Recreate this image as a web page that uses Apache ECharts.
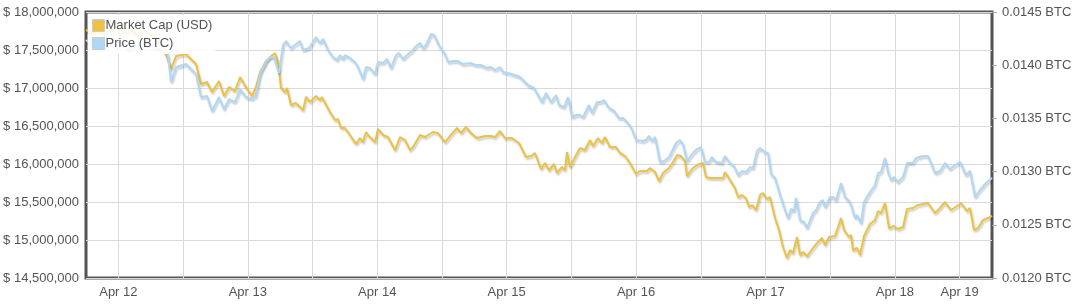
<!DOCTYPE html>
<html><head><meta charset="utf-8">
<script src="https://cdn.jsdelivr.net/npm/echarts@6/dist/echarts.min.js"></script>
<style>html,body{margin:0;padding:0;background:#fff}#c{width:1082px;height:306px}</style>
</head><body><div id="c"></div>
<script>
const seriesNames = ['Market Cap (USD)', 'Price (BTC)'];

// hours since Apr 11 18:00
const capHours = [0,1.11,2.23,3.34,4.45,5.38,6.30,7.42,8.53,9.64,10.75,11.87,12.98,14.09,14.83,15.76,16.69,18.54,20.40,21.32,22.44,23.37,24.66,25.59,26.52,27.63,28.56,29.67,30.78,31.52,32.26,33.38,34.12,35.05,35.60,36.16,36.90,37.27,38.01,38.94,40.24,40.79,41.54,42.65,43.39,43.76,45.24,46.17,46.73,47.28,48.03,48.95,50.07,50.81,51.36,51.92,52.66,53.59,54.15,55.07,56.00,57.30,58.23,59.15,60.08,60.64,61.93,62.86,64.34,65.27,66.57,67.68,68.79,69.54,70.46,71.39,72.50,73.99,75.10,75.84,76.77,77.69,78.99,80.29,81.59,82.52,83.26,84.37,85.11,85.85,86.78,87.34,88.26,88.82,89.19,89.75,90.67,91.60,92.53,93.46,94.01,94.94,95.68,96.24,97.16,98.28,99.02,99.95,100.87,101.99,102.73,104.03,104.58,105.51,106.25,107.00,108.11,108.85,109.59,110.33,111.07,111.44,112.37,113.30,113.85,114.41,114.97,115.71,117.19,118.12,118.49,119.42,120.34,120.90,121.64,122.38,122.94,123.50,124.24,124.98,125.54,126.28,126.83,127.76,128.50,129.24,129.98,130.54,131.10,131.84,132.40,132.95,133.70,134.81,135.74,136.48,137.03,137.77,138.89,140.00,140.56,141.49,141.86,142.22,142.97,143.52,144.26,145.38,146.30,146.86,147.42,148.16,148.90,149.83,150.57,151.50,152.24,153.35,154.28,156.13,157.43,158.36,159.28,160.40,161.51,162.25,163.36,163.92,164.66,165.40,166.33,167.26,168.00];
const capValues = [17763000,17724000,17750000,17711000,17789000,17868000,17763000,17724000,17763000,17684000,17750000,17724000,17658000,17579000,17447000,17250000,17421000,17447000,17316000,17053000,17079000,16947000,17092000,16895000,17013000,16961000,17145000,17013000,16895000,17013000,17211000,17355000,17408000,17461000,17342000,17000000,16947000,17000000,16776000,16803000,16711000,16882000,16816000,16895000,16842000,16882000,16684000,16579000,16592000,16474000,16474000,16382000,16263000,16342000,16289000,16421000,16355000,16289000,16461000,16382000,16355000,16184000,16355000,16316000,16184000,16224000,16382000,16355000,16421000,16408000,16289000,16382000,16474000,16408000,16487000,16408000,16342000,16368000,16368000,16355000,16434000,16342000,16342000,16276000,16092000,16105000,16145000,15934000,16013000,15921000,16000000,15882000,15961000,15921000,16158000,15961000,16092000,16211000,16184000,16316000,16237000,16342000,16276000,16355000,16224000,16224000,16145000,16105000,16013000,15868000,15908000,15908000,15947000,15895000,15776000,15882000,15947000,16026000,16118000,16105000,16039000,15842000,15934000,15987000,16000000,16013000,15829000,15816000,15816000,15816000,15895000,15789000,15684000,15566000,15592000,15553000,15434000,15461000,15395000,15592000,15618000,15540000,15566000,15289000,15132000,14908000,14763000,14868000,14829000,15039000,14803000,14842000,14789000,14895000,14974000,15026000,14934000,15039000,15053000,15289000,15132000,15039000,15066000,14868000,14895000,14803000,15053000,15211000,15263000,15382000,15355000,15487000,15158000,15184000,15145000,15171000,15408000,15421000,15461000,15487000,15355000,15421000,15500000,15395000,15447000,15487000,15382000,15421000,15132000,15158000,15263000,15289000,15316000];

const priceHours = [0,1.11,2.23,3.34,4.45,5.56,6.68,7.79,8.90,10.01,11.13,12.24,13.35,14.46,15.21,15.76,16.69,18.54,20.40,21.32,22.44,23.36,24.66,25.59,26.52,27.63,28.56,29.67,30.78,31.52,32.26,33.38,34.12,34.86,35.42,35.79,36.53,37.09,38.01,39.68,40.24,41.35,42.65,43.39,43.95,44.87,45.80,46.54,47.10,47.66,48.03,48.95,49.88,50.44,51.36,51.92,52.66,53.59,54.15,55.07,55.81,56.56,57.48,58.04,58.78,59.52,60.45,61.01,61.93,62.49,63.05,63.97,64.53,65.64,66.57,67.13,68.05,68.98,69.91,71.21,72.32,73.24,74.36,75.10,75.84,76.77,77.32,78.25,79.55,80.48,81.96,83.07,84.56,85.30,86.23,87.16,87.72,88.64,89.39,90.13,90.87,91.60,92.16,93.27,93.83,94.76,95.50,96.05,96.98,97.91,98.83,99.58,100.50,101.24,101.99,103.28,103.84,104.40,104.95,105.51,106.44,107.17,108.11,109.40,110.15,110.70,111.44,112.56,113.30,114.04,114.78,115.52,116.08,116.82,117.94,118.49,119.23,120.16,120.90,121.64,122.38,123.12,123.68,124.42,124.98,125.91,126.46,127.02,127.76,128.69,129.61,130.17,130.73,131.28,131.66,132.40,133.14,133.70,134.81,135.37,136.11,136.66,137.03,137.96,138.52,139.07,140.00,140.74,141.67,142.60,142.97,143.71,144.26,145.01,146.30,146.86,147.42,148.16,148.72,149.27,149.83,150.57,151.50,152.24,153.35,153.91,155.21,156.13,157.43,158.36,159.28,160.21,161.14,162.07,163.18,163.92,164.85,165.77,166.89,168];
const priceValues = [0.014237,0.014190,0.014218,0.014162,0.014209,0.014171,0.014227,0.014143,0.014199,0.014162,0.014218,0.014171,0.014162,0.014143,0.014096,0.013842,0.013983,0.014011,0.013917,0.013701,0.013711,0.013570,0.013701,0.013588,0.013682,0.013654,0.013776,0.013701,0.013682,0.013711,0.013917,0.014039,0.014077,0.014077,0.013983,0.013927,0.014190,0.014227,0.014162,0.014227,0.014143,0.014162,0.014265,0.014209,0.014246,0.014143,0.014077,0.014049,0.014096,0.014058,0.014096,0.014068,0.014030,0.013983,0.013870,0.013983,0.013974,0.013917,0.014030,0.014021,0.014058,0.013974,0.014096,0.014115,0.014058,0.014096,0.014134,0.014171,0.014209,0.014162,0.014190,0.014293,0.014284,0.014171,0.014105,0.014030,0.014039,0.014039,0.014011,0.014021,0.014002,0.014002,0.013974,0.013983,0.013955,0.013983,0.013936,0.013927,0.013908,0.013889,0.013814,0.013786,0.013654,0.013739,0.013654,0.013720,0.013626,0.013607,0.013701,0.013513,0.013532,0.013532,0.013513,0.013626,0.013551,0.013654,0.013654,0.013673,0.013598,0.013570,0.013504,0.013504,0.013457,0.013400,0.013297,0.013288,0.013297,0.013335,0.013288,0.013325,0.013090,0.013100,0.013137,0.013269,0.013297,0.013259,0.013100,0.013175,0.013212,0.013231,0.013090,0.013090,0.013137,0.013090,0.013081,0.013147,0.013090,0.013053,0.012968,0.013006,0.012996,0.013043,0.013034,0.013194,0.013222,0.013184,0.013175,0.012977,0.012940,0.012780,0.012639,0.012564,0.012649,0.012630,0.012752,0.012545,0.012526,0.012470,0.012611,0.012639,0.012714,0.012733,0.012667,0.012761,0.012761,0.012733,0.012893,0.012761,0.012714,0.012564,0.012592,0.012517,0.012714,0.012780,0.012874,0.012987,0.012996,0.013128,0.012996,0.012921,0.012949,0.012902,0.012949,0.013081,0.013081,0.013128,0.013147,0.013147,0.012987,0.013006,0.013081,0.013024,0.013062,0.013090,0.012968,0.013006,0.012761,0.012827,0.012893,0.012940];

// x tick slots every 6 hours (0..168); grid lines on odd slots
const xTickLabels = ['', 'Apr 12', '', '', '', 'Apr 13', '', '', '', 'Apr 14', '', '', '', 'Apr 15', '', '', '', 'Apr 16', '', '', '', 'Apr 17', '', '', '', 'Apr 18', '', 'Apr 19', ''];

const capData = capHours.map((h, i) => [h, capValues[i]]);
const priceData = priceHours.map((h, i) => [h, priceValues[i]]);

function commas(n) { return String(Math.round(n)).replace(/\B(?=(\d{3})+(?!\d))/g, ','); }

const FONT = 'Liberation Sans, Arial, sans-serif';
const TXT = '#545454';
const GRIDC = '#d9d9d9';

const chart = echarts.init(document.getElementById('c'), null, { renderer: 'canvas' });
chart.setOption({
  animation: false,
  backgroundColor: '#fff',
  grid: { left: 86, right: 90, top: 12, bottom: 28, show: true, borderColor: '#545454', borderWidth: 3, backgroundColor: 'transparent' },
  legend: {
    orient: 'vertical', left: 88, top: 15, padding: [4, 3, 4, 4],
    backgroundColor: 'rgba(255,255,255,0.85)',
    itemWidth: 12, itemHeight: 12, itemGap: 5, icon: 'rect',
    itemStyle: { borderColor: '#ccc', borderWidth: 1 },
    textStyle: { color: TXT, fontSize: 13, fontFamily: FONT, padding: [0, 0, 0, -4] },
    data: seriesNames
  },
  xAxis: [
    { type: 'value', min: 0, max: 168, show: false },
    {
      type: 'category', position: 'bottom', boundaryGap: false,
      data: xTickLabels.map((_, i) => 's' + i),
      axisLine: { show: false }, axisTick: { show: false },
      splitLine: { show: true, interval: (idx) => idx % 2 === 1, lineStyle: { color: GRIDC, width: 1 } },
      axisLabel: { interval: 0, margin: 8, color: TXT, fontSize: 13, fontFamily: FONT, formatter: (v, i) => xTickLabels[i] }
    }
  ],
  yAxis: [
    {
      type: 'value', position: 'left', min: 14500000, max: 18000000, interval: 500000,
      axisLine: { show: false }, axisTick: { show: false },
      splitLine: { show: true, lineStyle: { color: GRIDC, width: 1 } },
      axisLabel: { margin: 7, color: TXT, fontSize: 13, fontFamily: FONT, formatter: (v) => '$ ' + commas(v) }
    },
    {
      type: 'value', position: 'right', min: 0.012, max: 0.0145, interval: 0.0005,
      axisLine: { show: false },
      axisTick: { show: true, length: 5, lineStyle: { color: '#aaa' } },
      splitLine: { show: false },
      axisLabel: { margin: 10, color: TXT, fontSize: 13, fontFamily: FONT, formatter: (v) => v.toFixed(4) + ' BTC' }
    }
  ],
  series: [
    {
      name: seriesNames[0], type: 'line', xAxisIndex: 0, yAxisIndex: 0, data: capData,
      showSymbol: false, symbol: 'none', color: '#edc240', z: 2,
      lineStyle: { width: 2, color: '#edc240', shadowColor: 'rgba(0,0,0,0.22)', shadowBlur: 2, shadowOffsetX: 1, shadowOffsetY: 2 }
    },
    {
      name: seriesNames[1], type: 'line', xAxisIndex: 0, yAxisIndex: 1, data: priceData,
      showSymbol: false, symbol: 'none', color: '#afd8f8', z: 3,
      lineStyle: { width: 2, color: '#afd8f8', shadowColor: 'rgba(0,0,0,0.22)', shadowBlur: 2, shadowOffsetX: 1, shadowOffsetY: 2 }
    }
  ]
});
</script></body></html>
